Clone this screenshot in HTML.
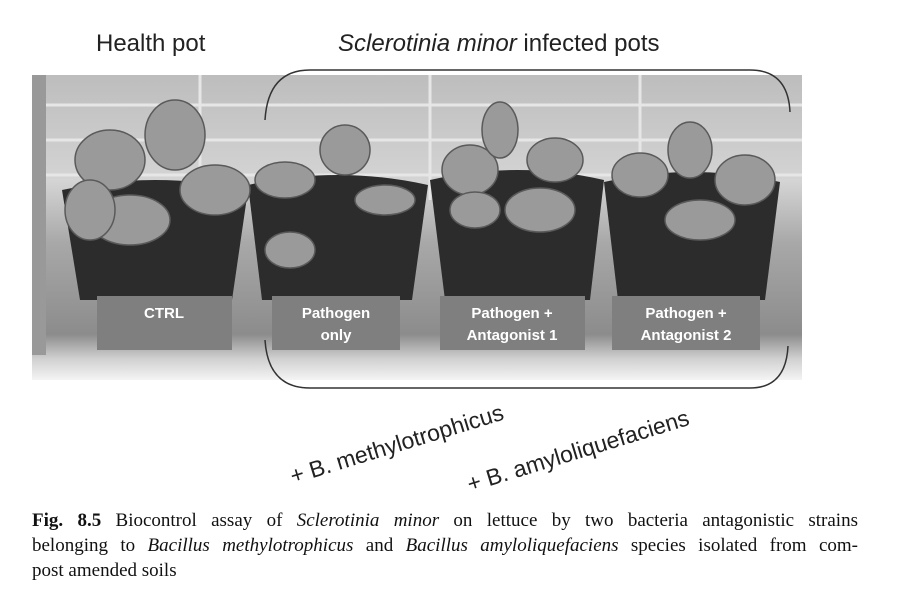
<!DOCTYPE html>
<html><head><meta charset="utf-8"><style>
body{margin:0;width:908px;height:612px;background:#fff;position:relative;overflow:hidden;font-family:"Liberation Sans",sans-serif}
.t{position:absolute;font-size:24px;color:#222;white-space:nowrap}
.cap{position:absolute;left:32px;width:826px;font-family:"Liberation Serif",serif;font-size:19px;line-height:25px;color:#111;white-space:nowrap}
.j{text-align:justify;text-align-last:justify}
</style></head><body>
<div class="t" style="left:96px;top:30px">Health pot</div>
<div class="t" style="left:338px;top:30px"><i>Sclerotinia minor</i> infected pots</div>
<svg width="908" height="612" style="position:absolute;left:0;top:0">
<defs>
<linearGradient id="bg" x1="0" y1="0" x2="0" y2="1">
<stop offset="0" stop-color="#bdbdbd"/><stop offset="0.35" stop-color="#d4d4d4"/><stop offset="0.55" stop-color="#a8a8a8"/><stop offset="0.85" stop-color="#8c8c8c"/><stop offset="0.93" stop-color="#d0d0d0"/><stop offset="1" stop-color="#f4f4f4"/>
</linearGradient>
</defs>
<rect x="32" y="75" width="770" height="305" fill="url(#bg)"/>
<g stroke="#e6e6e6" stroke-width="3">
<line x1="32" y1="105" x2="802" y2="105"/><line x1="32" y1="140" x2="802" y2="140"/><line x1="32" y1="175" x2="802" y2="175"/>
<line x1="200" y1="75" x2="200" y2="200"/><line x1="430" y1="75" x2="430" y2="200"/><line x1="640" y1="75" x2="640" y2="200"/>
</g>
<rect x="32" y="75" width="14" height="280" fill="#999"/>
<g fill="#2c2c2c">
<path d="M62 190 Q155 170 248 190 L232 300 L80 300 Z"/>
<path d="M248 185 Q338 165 428 185 L412 300 L262 300 Z"/>
<path d="M430 180 Q517 160 604 180 L590 300 L445 300 Z"/>
<path d="M604 182 Q692 162 780 182 L765 300 L618 300 Z"/>
</g>
<g fill="#9a9a9a" stroke="#5a5a5a" stroke-width="1.5">
<ellipse cx="110" cy="160" rx="35" ry="30"/><ellipse cx="175" cy="135" rx="30" ry="35"/><ellipse cx="215" cy="190" rx="35" ry="25"/><ellipse cx="130" cy="220" rx="40" ry="25"/><ellipse cx="90" cy="210" rx="25" ry="30"/>
<ellipse cx="285" cy="180" rx="30" ry="18"/><ellipse cx="345" cy="150" rx="25" ry="25"/><ellipse cx="385" cy="200" rx="30" ry="15"/><ellipse cx="290" cy="250" rx="25" ry="18"/>
<ellipse cx="470" cy="170" rx="28" ry="25"/><ellipse cx="500" cy="130" rx="18" ry="28"/><ellipse cx="555" cy="160" rx="28" ry="22"/><ellipse cx="540" cy="210" rx="35" ry="22"/><ellipse cx="475" cy="210" rx="25" ry="18"/>
<ellipse cx="640" cy="175" rx="28" ry="22"/><ellipse cx="690" cy="150" rx="22" ry="28"/><ellipse cx="745" cy="180" rx="30" ry="25"/><ellipse cx="700" cy="220" rx="35" ry="20"/>
</g>
<g fill="#7f7f7f">
<rect x="97" y="296" width="135" height="54"/><rect x="272" y="296" width="128" height="54"/><rect x="440" y="296" width="145" height="54"/><rect x="612" y="296" width="148" height="54"/>
</g>
<g fill="#fff" font-family="Liberation Sans" font-weight="bold" font-size="15" text-anchor="middle">
<text x="164" y="318">CTRL</text>
<text x="336" y="318">Pathogen</text><text x="336" y="340">only</text>
<text x="512" y="318">Pathogen +</text><text x="512" y="340">Antagonist 1</text>
<text x="686" y="318">Pathogen +</text><text x="686" y="340">Antagonist 2</text>
</g>
<g fill="none" stroke="#333" stroke-width="1.5">
<path d="M265 120 Q268 70 310 70 L750 70 Q788 70 790 112"/>
<path d="M265 340 Q268 388 310 388 L750 388 Q786 388 788 346"/>
</g>
<g font-family="Liberation Sans" font-size="23" fill="#222">
<text transform="translate(293,484) rotate(-17)">+ B. methylotrophicus</text>
<text transform="translate(470,492) rotate(-17)">+ B. amyloliquefaciens</text>
</g>
</svg>
<div class="cap j" style="top:508px"><b>Fig. 8.5</b> Biocontrol assay of <i>Sclerotinia minor</i> on lettuce by two bacteria antagonistic strains</div>
<div class="cap j" style="top:533px">belonging to <i>Bacillus methylotrophicus</i> and <i>Bacillus amyloliquefaciens</i> species isolated from com-</div>
<div class="cap" style="top:558px">post amended soils</div>
</body></html>
